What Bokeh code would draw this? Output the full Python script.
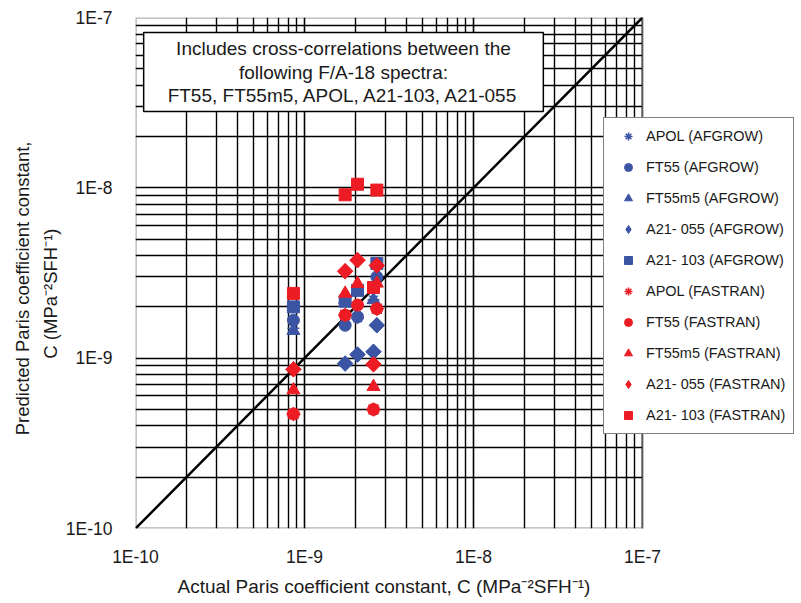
import math
from bokeh.plotting import figure
from bokeh.models import (Legend, LegendItem, FixedTicker, CustomJSTickFormatter,
                          Label, BoxAnnotation, Title)
from bokeh.embed import file_html
from bokeh.resources import INLINE

# ---- data ----
axis_decades = [1e-10, 1e-9, 1e-8, 1e-7]

# AFGROW predictions
apol_afg_x = [8.6e-10, 1.74e-9, 2.06e-9, 2.56e-9]
apol_afg_y = [1.50e-9, 1.60e-9, 1.72e-9, 2.20e-9]
ft55_afg_x = [8.6e-10, 1.74e-9, 2.06e-9, 2.68e-9]
ft55_afg_y = [1.67e-9, 1.56e-9, 1.75e-9, 3.00e-9]
ft55m5_afg_x = [8.6e-10, 1.74e-9, 2.06e-9, 2.56e-9]
ft55m5_afg_y = [1.45e-9, 2.20e-9, 2.45e-9, 2.20e-9]
a055_afg_x = [1.74e-9, 2.06e-9, 2.56e-9, 2.68e-9]
a055_afg_y = [9.3e-10, 1.05e-9, 1.09e-9, 1.56e-9]
a103_afg_x = [8.6e-10, 1.74e-9, 2.06e-9, 2.68e-9]
a103_afg_y = [2.00e-9, 2.16e-9, 2.50e-9, 3.60e-9]

# FASTRAN predictions
apol_fas_x = [8.6e-10, 1.74e-9, 2.56e-9, 2.68e-9]
apol_fas_y = [4.7e-10, 1.79e-9, 5.0e-10, 1.95e-9]
ft55_fas_x = [8.6e-10, 1.74e-9, 2.06e-9, 2.56e-9, 2.68e-9]
ft55_fas_y = [4.7e-10, 1.79e-9, 2.05e-9, 5.0e-10, 1.95e-9]
ft55m5_fas_x = [8.6e-10, 1.74e-9, 2.06e-9, 2.56e-9, 2.68e-9]
ft55m5_fas_y = [6.5e-10, 2.40e-9, 2.74e-9, 6.8e-10, 2.75e-9]
a055_fas_x = [8.6e-10, 1.74e-9, 2.06e-9, 2.56e-9, 2.68e-9]
a055_fas_y = [8.6e-10, 3.24e-9, 3.76e-9, 9.2e-10, 3.50e-9]
a103_fas_x = [8.6e-10, 1.74e-9, 2.06e-9, 2.56e-9, 2.68e-9]
a103_fas_y = [2.40e-9, 9.1e-9, 1.05e-8, 2.60e-9, 9.7e-9]

BLUE = "#3B55A4"
RED = "#ED1C24"
FONT = "Liberation Sans"
TXT = "#1a1a1a"

# ---- layout (pixels) ----
W, H = 800, 600
LEFT, TOP, BOTTOM = 135, 17, 531
PLOT_RIGHT = 642                    # right edge of the gridded square
decade_px = (PLOT_RIGHT - LEFT) / 3.0
x_end = 10 ** (math.log10(axis_decades[-1]) + (W - PLOT_RIGHT) / decade_px)

p = figure(width=W, height=H, x_axis_type="log", y_axis_type="log",
           x_range=(axis_decades[0], x_end),
           y_range=(axis_decades[0], axis_decades[-1]),
           output_backend="svg", toolbar_location=None,
           min_border_left=LEFT, min_border_right=0,
           min_border_top=TOP, min_border_bottom=H - BOTTOM)
p.outline_line_color = None

minor = [k * d for d in axis_decades[:-1] for k in range(2, 10)]
ticker = FixedTicker(ticks=axis_decades, minor_ticks=minor)
fmt = CustomJSTickFormatter(code="return '1E' + Math.round(Math.log10(tick));")

for ax in (p.xaxis[0], p.yaxis[0]):
    ax.ticker = ticker
    ax.formatter = fmt
    ax.axis_line_color = None
    ax.major_tick_line_color = None
    ax.minor_tick_line_color = None
    ax.major_label_text_font = FONT
    ax.major_label_text_font_size = "17.5px"
    ax.major_label_text_color = TXT
    ax.axis_label_text_font = FONT
    ax.axis_label_text_font_size = "18.5px"
    ax.axis_label_text_font_style = "normal"
    ax.axis_label_text_color = TXT

p.xaxis.major_label_standoff = 12
p.yaxis.major_label_standoff = 17
p.yaxis.axis_label = ("Predicted Paris coefficient constant," + "\u00a0" * 6 + "\n"
                      + "C (MPa\u207b\u00b2SFH\u207b\u00b9)" + "\u00a0" * 8)
p.yaxis.axis_label_standoff = 2
p.yaxis.axis_label_text_line_height = 1.3

xtitle = Title(text="Actual Paris coefficient constant, C (MPa\u207b\u00b2SFH\u207b\u00b9)",
               align="left", offset=42, text_font=FONT, text_font_size="19px",
               text_font_style="normal", text_color=TXT, standoff=8)
p.add_layout(xtitle, "below")

for g in (p.xgrid[0], p.ygrid[0]):
    g.grid_line_color = "black"
    g.grid_line_width = 1.6
    g.grid_line_alpha = 1.0
    g.minor_grid_line_color = "black"
    g.minor_grid_line_width = 1.4
    g.minor_grid_line_alpha = 1.0

# 1:1 line
p.line(axis_decades, axis_decades, line_color="black", line_width=2.5)

series = [
    ("APOL (AFGROW)", apol_afg_x, apol_afg_y, "asterisk", BLUE, 12),
    ("FT55 (AFGROW)", ft55_afg_x, ft55_afg_y, "circle", BLUE, 12),
    ("FT55m5 (AFGROW)", ft55m5_afg_x, ft55m5_afg_y, "triangle", BLUE, 13),
    ("A21- 055 (AFGROW)", a055_afg_x, a055_afg_y, "diamond", BLUE, 11),
    ("A21- 103 (AFGROW)", a103_afg_x, a103_afg_y, "square", BLUE, 12),
    ("APOL (FASTRAN)", apol_fas_x, apol_fas_y, "asterisk", RED, 14),
    ("FT55 (FASTRAN)", ft55_fas_x, ft55_fas_y, "circle", RED, 12),
    ("FT55m5 (FASTRAN)", ft55m5_fas_x, ft55m5_fas_y, "triangle", RED, 13),
    ("A21- 055 (FASTRAN)", a055_fas_x, a055_fas_y, "diamond", RED, 11),
    ("A21- 103 (FASTRAN)", a103_fas_x, a103_fas_y, "square", RED, 12),
]

items = []
for name, xs, ys, mk, col, sz in series:
    if mk == "diamond":
        # square-shaped diamonds (equal width and height) ...
        p.scatter(xs, ys, marker="square", size=sz, angle=math.pi / 4,
                  fill_color=col, line_color=col)
        # ... with a diamond symbol inside them, which also gives the legend key
        r = p.scatter(xs, ys, marker="diamond", size=sz * 1.35,
                      fill_color=col, line_color=col)
    else:
        r = p.scatter(xs, ys, marker=mk, size=sz, fill_color=col, line_color=col,
                      line_width=1.5 if mk == "asterisk" else 1)
    items.append(LegendItem(label=name, renderers=[r]))

# blank out the area right of the gridded square, then draw its border
p.add_layout(BoxAnnotation(left=axis_decades[-1], fill_color="white", fill_alpha=1.0,
                           line_alpha=0))
p.add_layout(BoxAnnotation(left=axis_decades[0], right=axis_decades[-1],
                           bottom=axis_decades[0], top=axis_decades[-1],
                           fill_alpha=0, line_color="black", line_width=2.5))

note = Label(x=10 ** (-10 + (343 - LEFT) / decade_px),
             y=10 ** (-7 - (32 - TOP) / ((BOTTOM - TOP) / 3.0)),
             x_units="data", y_units="data",
             text="Includes cross-correlations between the\nfollowing F/A-18 spectra:\nFT55, FT55m5, APOL, A21-103, A21-055",
             text_font=FONT, text_font_size="19px", text_color=TXT,
             text_align="center", text_baseline="top", text_line_height=1.1,
             anchor="top_center",
             background_fill_color="white", background_fill_alpha=1.0,
             border_line_color="black", border_line_width=1.5,
             padding=dict(left=24, right=24, top=6, bottom=6))
p.add_layout(note)

legend = Legend(items=items, location=(603 - LEFT, BOTTOM - 437),
                glyph_width=32, glyph_height=20, label_height=20,
                spacing=11, padding=8, margin=0, label_standoff=2,
                label_text_font=FONT, label_text_font_size="14.5px",
                label_text_color=TXT,
                border_line_color="black", border_line_width=1,
                background_fill_color="white", background_fill_alpha=1.0)
p.add_layout(legend, "center")

open("out.html", "w").write(file_html(p, INLINE))
